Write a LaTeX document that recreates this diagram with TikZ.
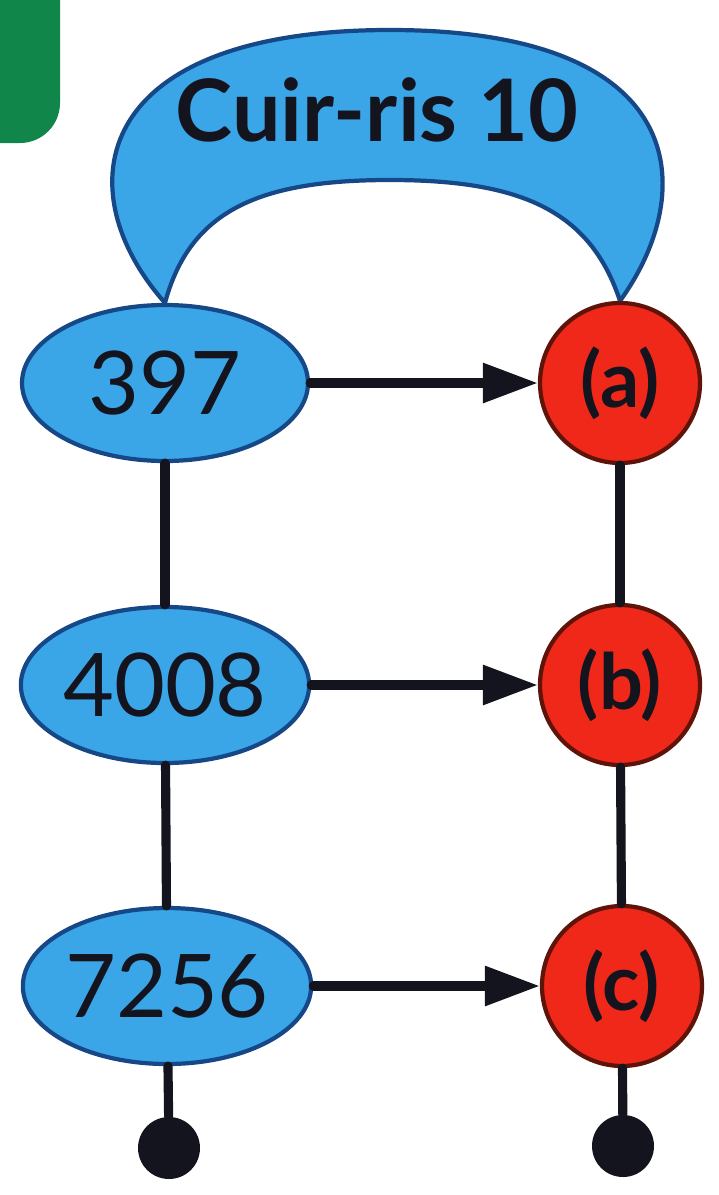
\documentclass[tikz,border=0pt]{standalone}
\usepackage{fontspec}
\setmainfont{Lato}
\usetikzlibrary{shapes.geometric,arrows.meta,backgrounds}
\definecolor{archblue}{RGB}{58,166,232}
\definecolor{edgeblue}{RGB}{22,72,135}
\definecolor{refred}{RGB}{240,40,25}
\definecolor{edgered}{RGB}{95,20,10}
\definecolor{tabgreen}{RGB}{16,134,74}
\definecolor{ink}{RGB}{20,20,30}
\begin{document}
\begin{tikzpicture}[line join=round, line cap=round, >={Triangle[length=5.5mm,width=3.8mm]},
	code/.style={ellipse, draw=edgeblue, fill=archblue, line width=1.2pt, minimum width=2.86cm, minimum height=1.56cm, inner sep=0pt, text=ink, font=\fontsize{25}{30}\selectfont},
	refnode/.style={circle, draw=edgered, fill=refred, line width=1.2pt, minimum size=1.6cm, inner sep=0pt, text=ink, font=\bfseries\fontsize{22}{26}\selectfont},
	stub/.style={circle, fill=ink, minimum size=0.62cm, inner sep=0pt},
	link/.style={line width=2.6pt, draw=ink}]
	\useasboundingbox (0,0) rectangle (7.18,-11.95);
	\begin{scope}
		\clip (0,0) rectangle (7.18,-11.95);
		\fill[tabgreen, rounded corners=0.4cm] (-1,1) rectangle (0.6,-1.43);
	\end{scope}
	% codes and references
	\node[code] (n397) at (1.65,-3.83) {397};
	\node[code] (n4008) at (1.65,-6.85) {4008};
	\node[code] (n7256) at (1.67,-9.86) {7256};
	\node[refnode] (a) at (6.2,-3.83) {(a)};
	\node[refnode] (b) at (6.2,-6.85) {(b)};
	\node[refnode] (c) at (6.22,-9.86) {(c)};
	\node[stub] (endl) at (1.69,-11.48) {};
	\node[stub] (endr) at (6.23,-11.46) {};
	% arch
	\begin{scope}[on background layer]
		\draw[draw=edgeblue, fill=archblue, line width=1.2pt]
		(n397.north) .. controls (0.65,-1.9) and (0.9,-0.3) .. (3.9,-0.3)
		.. controls (6.9,-0.3) and (7.0,-1.9) .. (a.north)
		.. controls (5.9,-2.1) and (5.2,-1.8) .. (3.9,-1.8)
		.. controls (2.6,-1.8) and (1.9,-2.1) .. (n397.north) -- cycle;
	\end{scope}
	\node[text=ink, font=\bfseries\fontsize{24.5}{29}\selectfont] (title) at (3.77,-1.1) {Cuir-ris 10};
	% connectors
	\draw[link] (n397) -- (n4008);
	\draw[link] (n4008) -- (n7256);
	\draw[link] (n7256) -- (endl);
	\draw[link] (a) -- (b);
	\draw[link] (b) -- (c);
	\draw[link] (c) -- (endr);
	\draw[link,->] (n397) -- (a);
	\draw[link,->] (n4008) -- (b);
	\draw[link,->] (n7256) -- (c);
\end{tikzpicture}
\end{document}
